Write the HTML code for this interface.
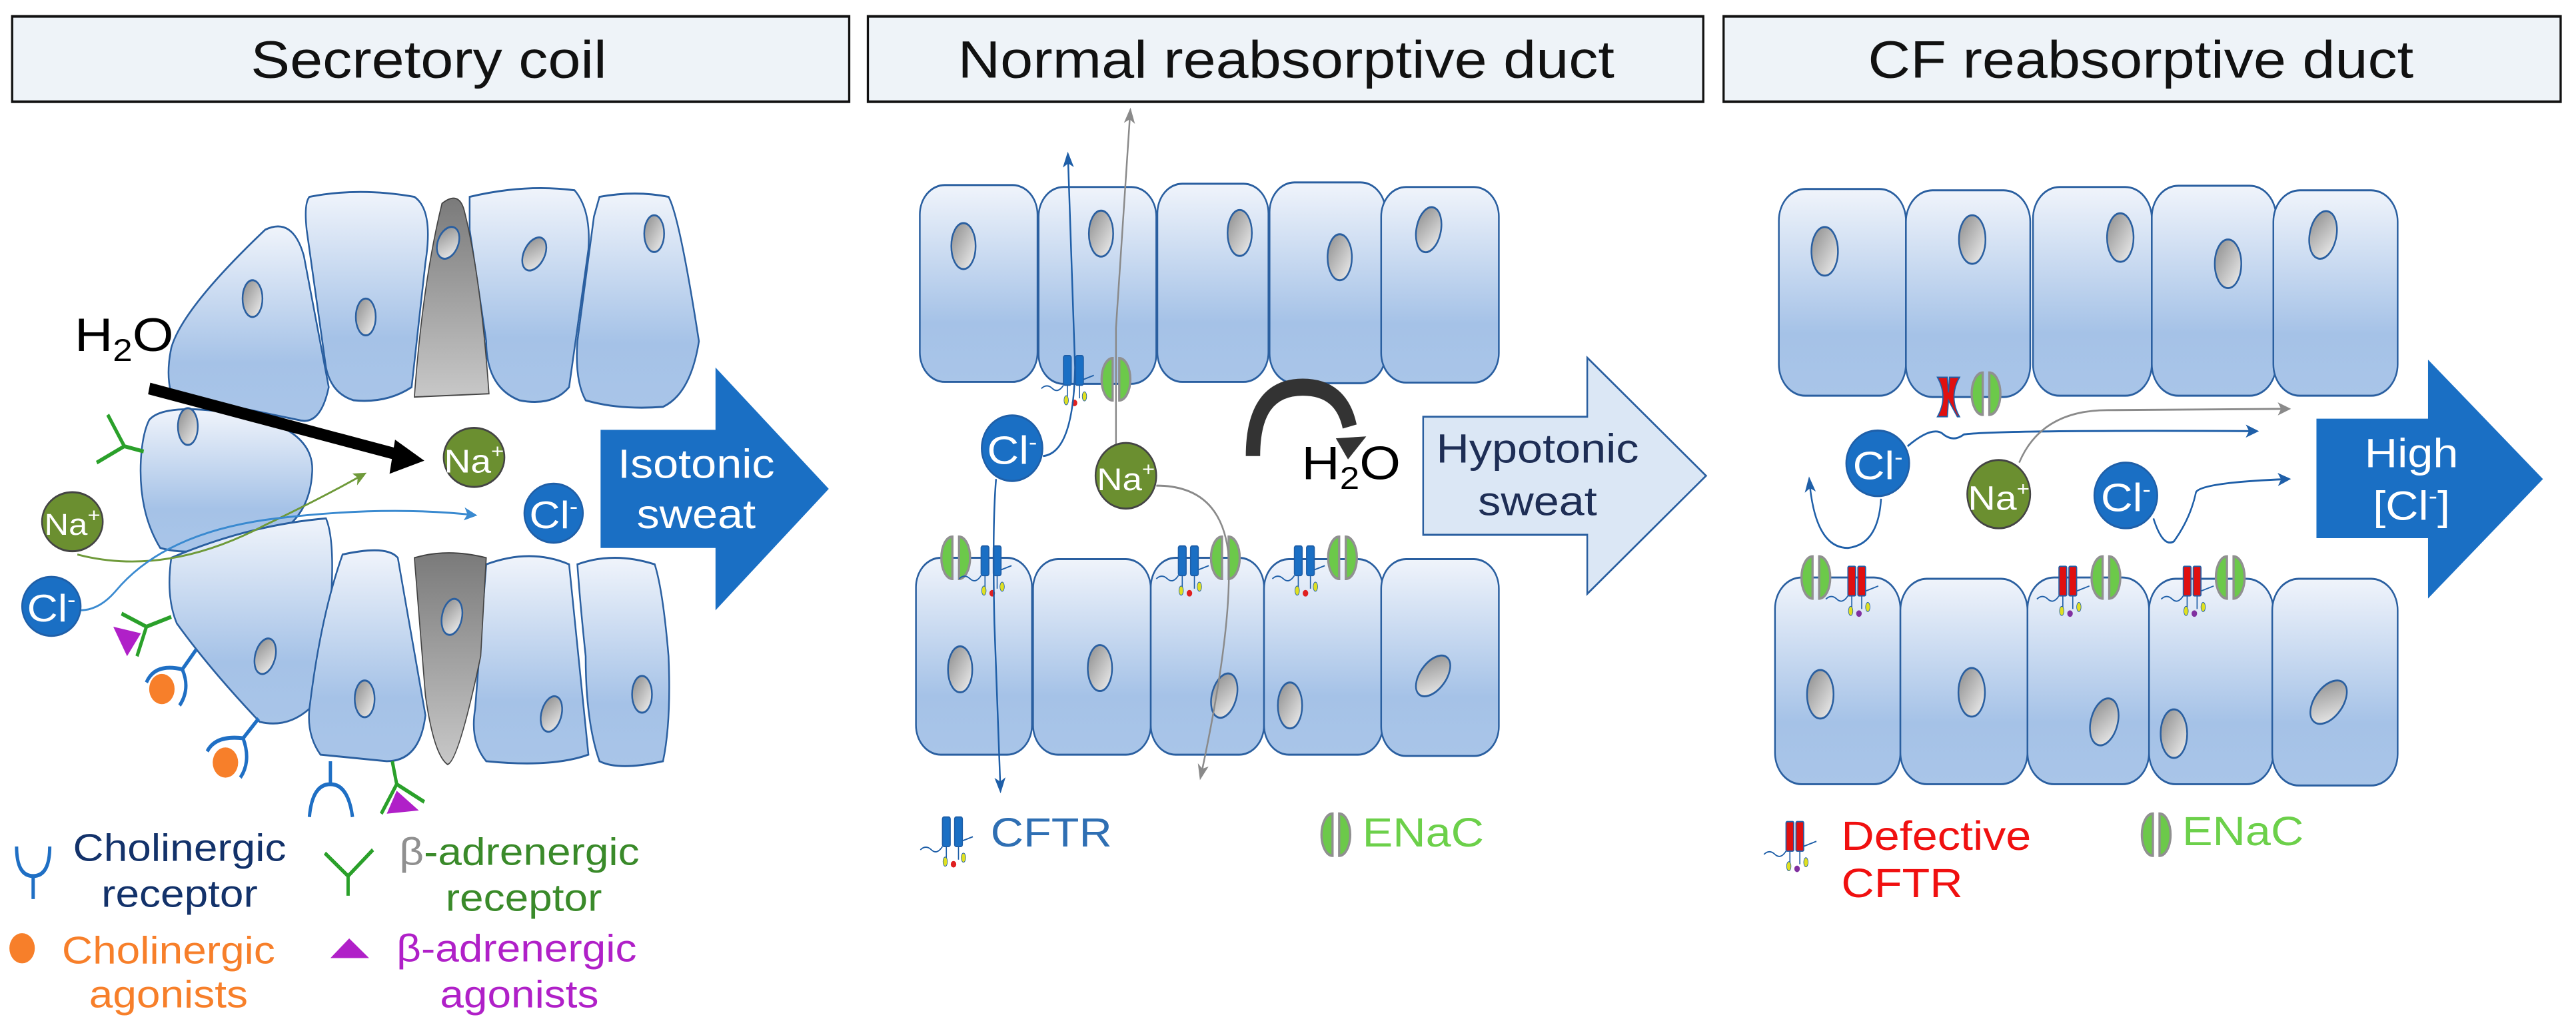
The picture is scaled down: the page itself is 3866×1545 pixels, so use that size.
<!DOCTYPE html>
<html><head><meta charset="utf-8"><style>
html,body{margin:0;padding:0;background:#fff;width:3866px;height:1545px;overflow:hidden}
svg{display:block;font-family:"Liberation Sans",sans-serif}
svg text{transform-box:fill-box;transform-origin:center;transform:scaleX(1.33)}
svg text.l{transform-origin:left center}
</style></head><body>
<svg width="3866" height="1545" viewBox="0 0 3866 1545" xmlns="http://www.w3.org/2000/svg">
<defs>
<linearGradient id="cg" x1="0" y1="0" x2="0" y2="1"><stop offset="0" stop-color="#f0f4fb"/><stop offset="0.7" stop-color="#a5c2e7"/><stop offset="1" stop-color="#a9c5e8"/></linearGradient>
<linearGradient id="gg" x1="0" y1="0" x2="0" y2="1"><stop offset="0" stop-color="#7a7a7a"/><stop offset="1" stop-color="#c8c8c8"/></linearGradient>
<linearGradient id="ng" x1="0" y1="0" x2="1" y2="1"><stop offset="0" stop-color="#8a8a8a"/><stop offset="1" stop-color="#f2f2f2"/></linearGradient>
<marker id="abl" markerWidth="24" markerHeight="24" refX="20" refY="12" orient="auto" markerUnits="userSpaceOnUse"><path d="M0,2 L24,12 L0,22 L6,12z" fill="#1f5fa8"/></marker>
<marker id="agr" markerWidth="24" markerHeight="24" refX="20" refY="12" orient="auto" markerUnits="userSpaceOnUse"><path d="M0,2 L24,12 L0,22 L6,12z" fill="#8a8a8a"/></marker>
<marker id="agn" markerWidth="24" markerHeight="24" refX="20" refY="12" orient="auto" markerUnits="userSpaceOnUse"><path d="M0,2 L24,12 L0,22 L6,12z" fill="#6f9a3a"/></marker>
<marker id="alb" markerWidth="24" markerHeight="24" refX="20" refY="12" orient="auto" markerUnits="userSpaceOnUse"><path d="M0,2 L24,12 L0,22 L6,12z" fill="#3a8ad0"/></marker>
<g id="cftr"><path d="M-40,20 q10,-8 20,0 t20,-5 M25,10 q15,-5 30,-10" stroke="#1f5fa8" stroke-width="2" fill="none"/><rect x="0" y="-30" width="14" height="45" rx="3" fill="#1a6fc4" stroke="#1f5fa8" stroke-width="2"/><rect x="22" y="-30" width="14" height="45" rx="3" fill="#1a6fc4" stroke="#1f5fa8" stroke-width="2"/><path d="M7,15 v20 M29,15 v20" stroke="#1f5fa8" stroke-width="2"/><ellipse cx="5" cy="38" rx="4" ry="7" fill="#e0e020" stroke="#1f5fa8"/><circle cx="20" cy="42" r="5" fill="#e02020"/><ellipse cx="38" cy="32" rx="4" ry="7" fill="#e0e020" stroke="#1f5fa8"/></g>
<g id="cftrR"><path d="M-40,20 q10,-8 20,0 t20,-5 M25,10 q15,-5 30,-10" stroke="#1f5fa8" stroke-width="2" fill="none"/><rect x="0" y="-30" width="14" height="45" rx="2" fill="#e01010" stroke="#1f5fa8" stroke-width="2"/><rect x="18" y="-30" width="14" height="45" rx="2" fill="#e01010" stroke="#1f5fa8" stroke-width="2"/><path d="M7,15 v20 M25,15 v20" stroke="#1f5fa8" stroke-width="2"/><ellipse cx="5" cy="38" rx="4" ry="7" fill="#e0e020" stroke="#1f5fa8"/><circle cx="20" cy="42" r="5" fill="#8030a0"/><ellipse cx="36" cy="32" rx="4" ry="7" fill="#e0e020" stroke="#1f5fa8"/></g>
<g id="enac"><path d="M-6,-32 a20,32 0 0 0 0,64 z" fill="#6cc94a" stroke="#909090" stroke-width="4"/><path d="M6,-32 a20,32 0 0 1 0,64 z" fill="#6cc94a" stroke="#909090" stroke-width="4"/></g>
</defs>

<!-- ===== PANEL 1 ===== -->
<g transform="scale(0.8292,0.9853)">
<rect x="22" y="25" width="1515" height="130" fill="#eef3f8" stroke="#111" stroke-width="4"/>
<text x="776" y="118" font-size="80" text-anchor="middle" fill="#111">Secretory coil</text>
<g stroke="#2a5fa0" stroke-width="3" fill="url(#cg)">
<path d="M310,530 Q330,470 480,350 Q530,330 550,390 L595,590 Q580,650 540,640 L310,600 Q300,570 310,530z"/>
<path d="M560,300 Q650,285 750,300 Q785,320 770,400 L745,590 Q700,615 640,610 Q600,600 590,560 L555,350 Q550,310 560,300z"/>
<path d="M850,300 Q950,280 1040,290 Q1070,320 1065,380 L1030,590 Q1000,620 940,610 Q880,590 880,520 L850,350z"/>
<path d="M1085,300 Q1150,290 1210,300 Q1230,330 1265,520 Q1250,600 1200,620 Q1120,625 1060,610 Q1040,580 1045,520 L1075,330z"/>
<path d="M270,640 Q300,610 460,635 Q570,660 565,720 Q560,800 470,825 Q350,850 290,835 Q250,780 255,700 Q258,660 270,640z"/>
<path d="M310,850 Q450,800 590,790 Q605,820 600,900 L560,1080 Q520,1110 470,1100 Q380,1020 320,950 Q300,910 310,850z"/>
<path d="M620,845 Q700,830 720,850 L770,1090 Q760,1160 700,1160 L580,1150 Q555,1120 560,1080 Q580,940 620,845z"/>
<path d="M880,860 Q960,835 1030,860 L1065,1150 Q1000,1170 880,1160 Q850,1130 860,1080z"/>
<path d="M1045,860 Q1110,840 1185,860 Q1200,900 1210,1000 Q1215,1100 1200,1160 Q1120,1175 1085,1160 Q1060,1100 1060,1000 Q1050,920 1045,860z"/>
</g>
<g stroke="#444" stroke-width="2" fill="url(#gg)">
<path d="M800,310 Q830,290 840,320 Q870,420 885,600 L750,605 Q765,430 800,310z"/>
<path d="M750,850 Q810,835 880,850 L870,1000 Q830,1160 810,1165 Q785,1150 770,1060z"/>
</g>
<g fill="url(#ng)" stroke="#2a5fa0" stroke-width="3">
<ellipse cx="457" cy="455" rx="18" ry="28"/><ellipse cx="662" cy="483" rx="18" ry="28"/><ellipse cx="811" cy="370" rx="18" ry="26" transform="rotate(30 811 370)"/><ellipse cx="967" cy="387" rx="18" ry="28" transform="rotate(35 967 387)"/><ellipse cx="1184" cy="356" rx="18" ry="28"/><ellipse cx="340" cy="650" rx="18" ry="28"/><ellipse cx="480" cy="1000" rx="18" ry="28" transform="rotate(20 480 1000)"/><ellipse cx="660" cy="1065" rx="18" ry="28"/><ellipse cx="818" cy="940" rx="18" ry="28" transform="rotate(15 818 940)"/><ellipse cx="998" cy="1088" rx="18" ry="28" transform="rotate(20 998 1088)"/><ellipse cx="1162" cy="1058" rx="18" ry="28"/>
</g>
<path d="M140,845 Q300,880 480,800 Q580,760 660,722" stroke="#6f9a3a" stroke-width="3" fill="none" marker-end="url(#agn)"/>
<path d="M145,930 Q180,930 210,900 Q300,810 500,790 Q700,770 860,785" stroke="#3a8ad0" stroke-width="3" fill="none" marker-end="url(#alb)"/>
<line x1="270" y1="592" x2="730" y2="695" stroke="#000" stroke-width="18"/>
<path d="M715,670 L768,702 L705,722z" fill="#000"/>
<text class="l" x="135" y="535" font-size="72" fill="#000">H<tspan font-size="48" dy="15">2</tspan><tspan dy="-15">O</tspan></text>
<ellipse cx="858" cy="697" rx="55" ry="45" fill="#6b8f30" stroke="#444" stroke-width="3"/><text x="858" y="720" font-size="50" fill="#fff" text-anchor="middle">Na<tspan font-size="30" dy="-22">+</tspan></text>
<ellipse cx="1002" cy="782" rx="53" ry="45" fill="#1a6fc4" stroke="#1f5fa8" stroke-width="3"/><text x="1002" y="805" font-size="58" fill="#fff" text-anchor="middle">Cl<tspan font-size="34" dy="-22">-</tspan></text>
<ellipse cx="131" cy="795" rx="55" ry="45" fill="#6b8f30" stroke="#444" stroke-width="3"/><text x="131" y="815" font-size="46" fill="#fff" text-anchor="middle">Na<tspan font-size="30" dy="-20">+</tspan></text>
<ellipse cx="93" cy="924" rx="53" ry="45" fill="#1a6fc4" stroke="#1f5fa8" stroke-width="3"/><text x="93" y="947" font-size="58" fill="#fff" text-anchor="middle">Cl<tspan font-size="34" dy="-22">-</tspan></text>
<path d="M1087,655 L1295,655 L1295,560 L1500,745 L1295,930 L1295,835 L1087,835z" fill="#1a6fc4"/>
<text x="1260" y="728" font-size="62" fill="#fff" text-anchor="middle">Isotonic</text>
<text x="1260" y="805" font-size="62" fill="#fff" text-anchor="middle">sweat</text>
<g stroke="#2aa02a" stroke-width="6" fill="none">
<path d="M260,688 L225,680 L195,632 M225,680 L175,705"/>
<path d="M310,940 L265,955 L220,935 M265,955 L248,1000"/>
<path d="M710,1160 L718,1195 L690,1240 M718,1195 L768,1222"/>
</g>
<g stroke="#1f6fc4" stroke-width="6" fill="none">
<path d="M355,990 L330,1020 M330,1020 Q280,1010 265,1040 M330,1020 Q345,1050 325,1075"/>
<path d="M468,1095 L440,1125 M440,1125 Q390,1120 375,1145 M440,1125 Q455,1160 435,1185"/>
<path d="M598,1160 L598,1195 M598,1195 Q565,1195 560,1245 M598,1195 Q630,1195 638,1245"/>
</g>
<circle cx="293" cy="1050" r="23" fill="#f77f2a"/><circle cx="408" cy="1162" r="23" fill="#f77f2a"/>
<path d="M205,955 L255,965 L230,1000z" fill="#b020c8"/><path d="M700,1240 L718,1205 L758,1235z" fill="#b020c8"/>
<path d="M30,1290 Q30,1335 60,1335 Q90,1335 90,1290 M60,1335 V1370" stroke="#1f6fc4" stroke-width="6" fill="none"/>
<text x="325" y="1312" font-size="58" fill="#13326a" text-anchor="middle">Cholinergic</text>
<text x="325" y="1382" font-size="58" fill="#13326a" text-anchor="middle">receptor</text>
<path d="M588,1300 L630,1335 L675,1295 M630,1335 V1365" stroke="#2aa02a" stroke-width="6" fill="none"/>
<text x="940" y="1318" font-size="58" fill="#3a8a2a" text-anchor="middle"><tspan fill="#909090">β</tspan>-adrenergic</text>
<text x="948" y="1388" font-size="58" fill="#3a8a2a" text-anchor="middle">receptor</text>
<circle cx="40" cy="1445" r="23" fill="#f77f2a"/>
<text x="305" y="1468" font-size="58" fill="#f77f2a" text-anchor="middle">Cholinergic</text>
<text x="305" y="1535" font-size="58" fill="#f77f2a" text-anchor="middle">agonists</text>
<path d="M598,1460 L632,1430 L668,1460z" fill="#b020c8"/>
<text x="935" y="1465" font-size="58" fill="#b020c8" text-anchor="middle">β-adrenergic</text>
<text x="940" y="1535" font-size="58" fill="#b020c8" text-anchor="middle">agonists</text>
</g>

<!-- ===== PANEL 2 ===== -->
<g transform="translate(1300,0) scale(0.8292,0.9853)">
<rect x="3" y="25" width="1512" height="130" fill="#eef3f8" stroke="#111" stroke-width="4"/>
<text x="760" y="118" font-size="80" text-anchor="middle" fill="#111">Normal reabsorptive duct</text>
<g stroke="#2a5fa0" stroke-width="3" fill="url(#cg)">
<rect x="97" y="282" width="213" height="300" rx="45"/><rect x="312" y="285" width="213" height="300" rx="45"/><rect x="527" y="280" width="201" height="302" rx="45"/><rect x="730" y="278" width="210" height="306" rx="45"/><rect x="932" y="285" width="213" height="298" rx="45"/>
<rect x="90" y="850" width="210" height="300" rx="45"/><rect x="302" y="852" width="213" height="298" rx="45"/><rect x="515" y="850" width="205" height="300" rx="45"/><rect x="720" y="852" width="215" height="298" rx="45"/><rect x="932" y="852" width="213" height="300" rx="45"/>
</g>
<g fill="url(#ng)" stroke="#2a5fa0" stroke-width="3">
<ellipse cx="176" cy="375" rx="22" ry="35"/><ellipse cx="425" cy="356" rx="22" ry="35"/><ellipse cx="676" cy="355" rx="22" ry="35"/><ellipse cx="857" cy="392" rx="22" ry="35"/><ellipse cx="1018" cy="350" rx="22" ry="35" transform="rotate(15 1018 350)"/>
<ellipse cx="170" cy="1020" rx="22" ry="35"/><ellipse cx="423" cy="1018" rx="22" ry="35"/><ellipse cx="648" cy="1060" rx="22" ry="35" transform="rotate(20 648 1060)"/><ellipse cx="767" cy="1075" rx="22" ry="35"/><ellipse cx="1026" cy="1030" rx="22" ry="38" transform="rotate(45 1026 1030)"/>
</g>
<use href="#cftr" x="357" y="572"/><use href="#enac" x="452" y="578"/>
<use href="#enac" x="162" y="850"/><use href="#cftr" x="208" y="862"/>
<use href="#cftr" x="565" y="862"/><use href="#enac" x="650" y="850"/>
<use href="#cftr" x="775" y="862"/><use href="#enac" x="862" y="850"/>
<path d="M320,695 Q375,690 378,560 L365,235" stroke="#1f5fa8" stroke-width="3" fill="none" marker-end="url(#abl)"/>
<path d="M235,730 Q228,800 232,950 L243,1205" stroke="#1f5fa8" stroke-width="3" fill="none" marker-end="url(#abl)"/>
<path d="M452,680 L452,500 L478,168" stroke="#8a8a8a" stroke-width="3" fill="none" marker-end="url(#agr)"/>
<path d="M525,740 Q640,740 655,840 Q665,950 605,1185" stroke="#8a8a8a" stroke-width="3" fill="none" marker-end="url(#agr)"/>
<ellipse cx="264" cy="683" rx="55" ry="50" fill="#1a6fc4" stroke="#1f5fa8" stroke-width="3"/><text x="264" y="707" font-size="60" fill="#fff" text-anchor="middle">Cl<tspan font-size="34" dy="-22">-</tspan></text>
<ellipse cx="470" cy="725" rx="55" ry="50" fill="#6b8f30" stroke="#444" stroke-width="3"/><text x="470" y="747" font-size="48" fill="#fff" text-anchor="middle">Na<tspan font-size="30" dy="-22">+</tspan></text>
<path d="M700,695 Q700,590 790,590 Q860,590 875,650" stroke="#333" stroke-width="26" fill="none"/>
<path d="M850,668 L905,665 L872,700z" fill="#333"/>
<text class="l" x="788" y="730" font-size="72" fill="#000">H<tspan font-size="48" dy="15">2</tspan><tspan dy="-15">O</tspan></text>
<path d="M1008,635 L1305,635 L1305,545 L1520,725 L1305,905 L1305,815 L1008,815z" fill="#dbe7f5" stroke="#2a5fa0" stroke-width="3"/>
<text x="1215" y="705" font-size="62" fill="#1e2e55" text-anchor="middle">Hypotonic</text>
<text x="1215" y="785" font-size="62" fill="#1e2e55" text-anchor="middle">sweat</text>
<use href="#cftr" x="138" y="1275"/>
<text class="l" x="225" y="1290" font-size="62" fill="#2f6fb3">CFTR</text>
<use href="#enac" x="850" y="1272"/>
<text class="l" x="898" y="1290" font-size="62" fill="#6cd04a">ENaC</text>
</g>

<!-- ===== PANEL 3 ===== -->
<g transform="translate(2566,0) scale(0.8292,0.9853)">
<rect x="25" y="25" width="1515" height="130" fill="#eef3f8" stroke="#111" stroke-width="4"/>
<text x="780" y="118" font-size="80" text-anchor="middle" fill="#111">CF reabsorptive duct</text>
<g stroke="#2a5fa0" stroke-width="3" fill="url(#cg)">
<rect x="125" y="288" width="230" height="315" rx="48"/><rect x="355" y="290" width="225" height="315" rx="48"/><rect x="585" y="285" width="215" height="318" rx="48"/><rect x="800" y="283" width="225" height="320" rx="48"/><rect x="1020" y="290" width="225" height="313" rx="48"/>
<rect x="118" y="880" width="227" height="315" rx="48"/><rect x="345" y="882" width="230" height="313" rx="48"/><rect x="575" y="880" width="220" height="315" rx="48"/><rect x="795" y="882" width="225" height="313" rx="48"/><rect x="1018" y="882" width="227" height="315" rx="48"/>
</g>
<g fill="url(#ng)" stroke="#2a5fa0" stroke-width="3">
<ellipse cx="208" cy="383" rx="24" ry="37"/><ellipse cx="475" cy="365" rx="24" ry="37"/><ellipse cx="743" cy="362" rx="24" ry="37"/><ellipse cx="938" cy="402" rx="24" ry="37"/><ellipse cx="1110" cy="358" rx="24" ry="37" transform="rotate(15 1110 358)"/>
<ellipse cx="200" cy="1058" rx="24" ry="37"/><ellipse cx="474" cy="1055" rx="24" ry="37"/><ellipse cx="714" cy="1100" rx="24" ry="37" transform="rotate(20 714 1100)"/><ellipse cx="840" cy="1118" rx="24" ry="37"/><ellipse cx="1120" cy="1070" rx="24" ry="40" transform="rotate(45 1120 1070)"/>
</g>
<path d="M412,575 Q432,605 412,635 L430,635 L432,610 L448,635 L452,635 Q432,605 452,575 L434,575 L432,598 L430,575z" fill="#e01010" stroke="#1f5fa8" stroke-width="2"/>
<use href="#enac" x="500" y="600"/>
<use href="#enac" x="192" y="880"/><use href="#cftrR" x="250" y="893"/>
<use href="#cftrR" x="632" y="893"/><use href="#enac" x="717" y="880"/>
<use href="#cftrR" x="857" y="893"/><use href="#enac" x="942" y="880"/>
<path d="M358,680 Q400,650 420,660 Q440,675 460,662 Q520,655 990,657" stroke="#1f5fa8" stroke-width="3" fill="none" marker-end="url(#abl)"/>
<path d="M310,760 Q305,830 250,835 Q190,835 180,730" stroke="#1f5fa8" stroke-width="3" fill="none" marker-end="url(#abl)"/>
<path d="M560,705 Q600,625 720,625 L1048,623" stroke="#8a8a8a" stroke-width="3" fill="none" marker-end="url(#agr)"/>
<path d="M803,790 Q820,835 840,825 Q870,790 880,750 Q890,735 1048,730" stroke="#1f5fa8" stroke-width="3" fill="none" marker-end="url(#abl)"/>
<ellipse cx="304" cy="706" rx="57" ry="50" fill="#1a6fc4" stroke="#1f5fa8" stroke-width="3"/><text x="304" y="730" font-size="60" fill="#fff" text-anchor="middle">Cl<tspan font-size="34" dy="-22">-</tspan></text>
<ellipse cx="523" cy="753" rx="57" ry="52" fill="#6b8f30" stroke="#444" stroke-width="3"/><text x="523" y="777" font-size="52" fill="#fff" text-anchor="middle">Na<tspan font-size="30" dy="-22">+</tspan></text>
<ellipse cx="753" cy="755" rx="57" ry="50" fill="#1a6fc4" stroke="#1f5fa8" stroke-width="3"/><text x="753" y="779" font-size="60" fill="#fff" text-anchor="middle">Cl<tspan font-size="34" dy="-22">-</tspan></text>
<path d="M1098,638 L1300,638 L1300,548 L1508,730 L1300,912 L1300,820 L1098,820z" fill="#1a6fc4"/>
<text x="1270" y="712" font-size="62" fill="#fff" text-anchor="middle">High</text>
<text x="1270" y="792" font-size="62" fill="#fff" text-anchor="middle">[Cl<tspan font-size="36" dy="-24">-</tspan><tspan dy="24">]</tspan></text>
<use href="#cftrR" x="138" y="1282"/>
<text class="l" x="238" y="1295" font-size="62" fill="#f01010">Defective</text>
<text class="l" x="238" y="1367" font-size="62" fill="#f01010">CFTR</text>
<use href="#enac" x="808" y="1272"/>
<text class="l" x="855" y="1288" font-size="62" fill="#6cd04a">ENaC</text>
</g>
</svg>
</body></html>
